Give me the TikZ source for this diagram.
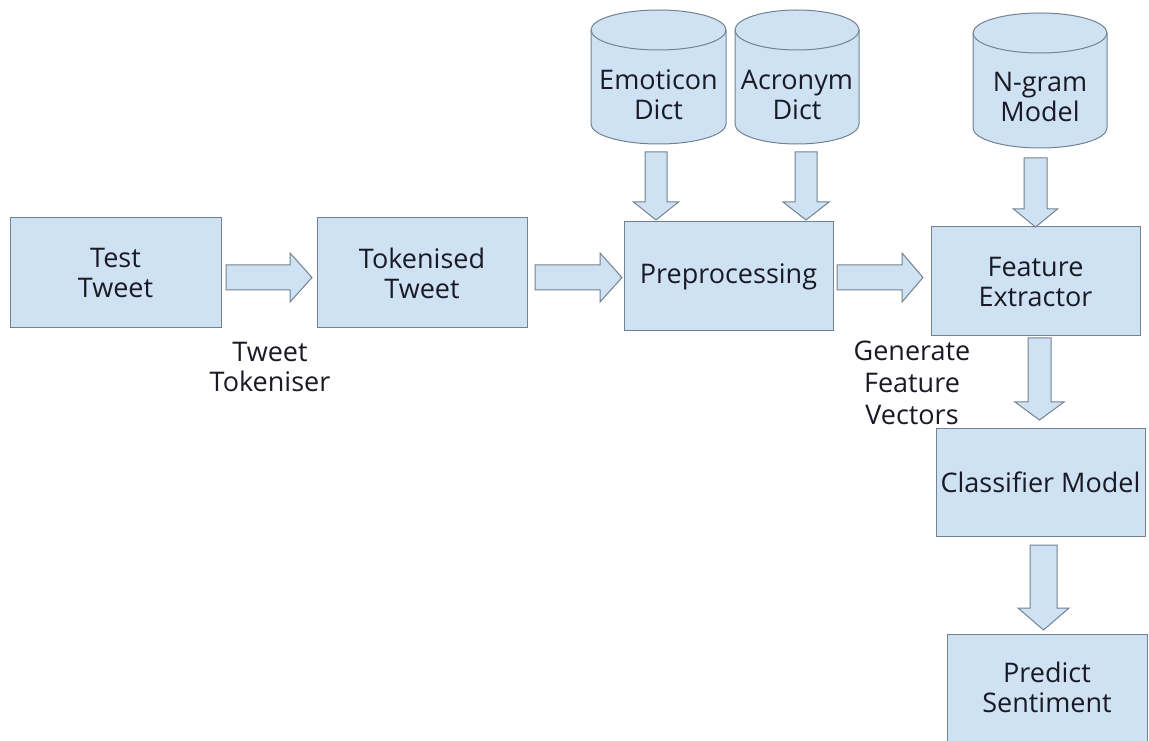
\documentclass[tikz,border=0pt]{standalone}
\usepackage{fontspec}
\setmainfont{Open Sans}
\definecolor{boxfill}{HTML}{CFE2F3}
\definecolor{boxline}{HTML}{728290}
\definecolor{ink}{HTML}{1A1A26}
% down-pointing block arrow: centre x, shaft half-width, head half-width, top y, head base y, tip y
\newcommand{\downblock}[6]{%
  \draw[blockarrow] ({#1-#2},#4) -- ({#1-#2},#5) -- ({#1-#3},#5) -- (#1,#6)
    -- ({#1+#3},#5) -- ({#1+#2},#5) -- ({#1+#2},#4) -- cycle;}
% right-pointing block arrow: start x, head base x, tip x, centre y
\newcommand{\rightblock}[4]{%
  \draw[blockarrow] (#1,{#4-12.5}) -- (#2,{#4-12.5}) -- (#2,{#4-24.5}) -- (#3,#4)
    -- (#2,{#4+24.5}) -- (#2,{#4+12.5}) -- (#1,{#4+12.5}) -- cycle;}
% database cylinder: centre x, x radius, top y, bottom y, ellipse y radius
\newcommand{\dbcyl}[5]{%
  \filldraw[cylbody] ({#1-#2},{#3-#5}) -- ({#1-#2},{#4+#5})
    arc[start angle=180, end angle=360, x radius=#2pt, y radius=#5pt]
    -- ({#1+#2},{#3-#5})
    arc[start angle=0, end angle=180, x radius=#2pt, y radius=#5pt] -- cycle;
  \draw[cylbody, fill=none] ({#1-#2},{#3-#5})
    arc[start angle=180, end angle=360, x radius=#2pt, y radius=#5pt];}
\begin{document}
\begin{tikzpicture}[x=1pt, y=1pt,
  every node/.style={text=ink, font=\fontsize{27}{30}\selectfont},
  procbox/.style={draw=boxline, fill=boxfill, line width=1pt, inner sep=0pt, align=center},
  cylbody/.style={draw=boxline, fill=boxfill, line width=1pt},
  blockarrow/.style={draw=boxline, fill=boxfill, line width=1pt, line join=miter},
  caption/.style={align=center, inner sep=0pt}]
\useasboundingbox (0,0) rectangle (1149,740);
\fill[white] (0,0) rectangle (1149,740);

% pipeline boxes
\node[procbox, minimum width=211pt, minimum height=110pt] (test) at (115.5,467) {Test\\Tweet};
\node[procbox, minimum width=210pt, minimum height=110pt] (tok) at (422,467) {Tokenised\\Tweet};
\node[procbox, minimum width=209pt, minimum height=109pt] (pre) at (728.5,463.5) {Preprocessing};
\node[procbox, minimum width=209pt, minimum height=109pt] (feat) at (1035.5,458.5) {Feature\\Extractor};
\node[procbox, minimum width=209pt, minimum height=107pt] (clas) at (1040.5,257.5) {Classifier Model};
\node[procbox, minimum width=200pt, minimum height=107pt] (pred) at (1047,52.5) {Predict\\Sentiment};

% resource cylinders
\dbcyl{658.5}{67.5}{730}{596}{20}
\dbcyl{797}{62}{730}{596}{20}
\dbcyl{1040}{67}{727}{592}{20}
\node[caption] (emo) at (658.5,645) {Emoticon\\Dict};
\node[caption] (acr) at (797,645) {Acronym\\Dict};
\node[caption] (ngram) at (1040,643) {N-gram\\Model};

% flow arrows
\rightblock{226}{290}{312}{462.5}
\rightblock{535}{600}{622}{462.5}
\rightblock{837}{902}{923}{462.5}
\downblock{656}{11}{22.5}{588}{538}{520}
\downblock{806}{11}{23}{588}{538}{520}
\downblock{1035.5}{11.5}{22}{582}{531}{513}
\downblock{1039.5}{11.5}{24.5}{402}{338}{320}
\downblock{1043.5}{13.5}{25.5}{195}{132}{110}

% step captions
\node[caption] (tokeniser) at (270,373) {Tweet\\Tokeniser};
\node[caption, font=\fontsize{27}{32}\selectfont] (vectors) at (912,357) {Generate\\Feature\\Vectors};
\end{tikzpicture}
\end{document}
